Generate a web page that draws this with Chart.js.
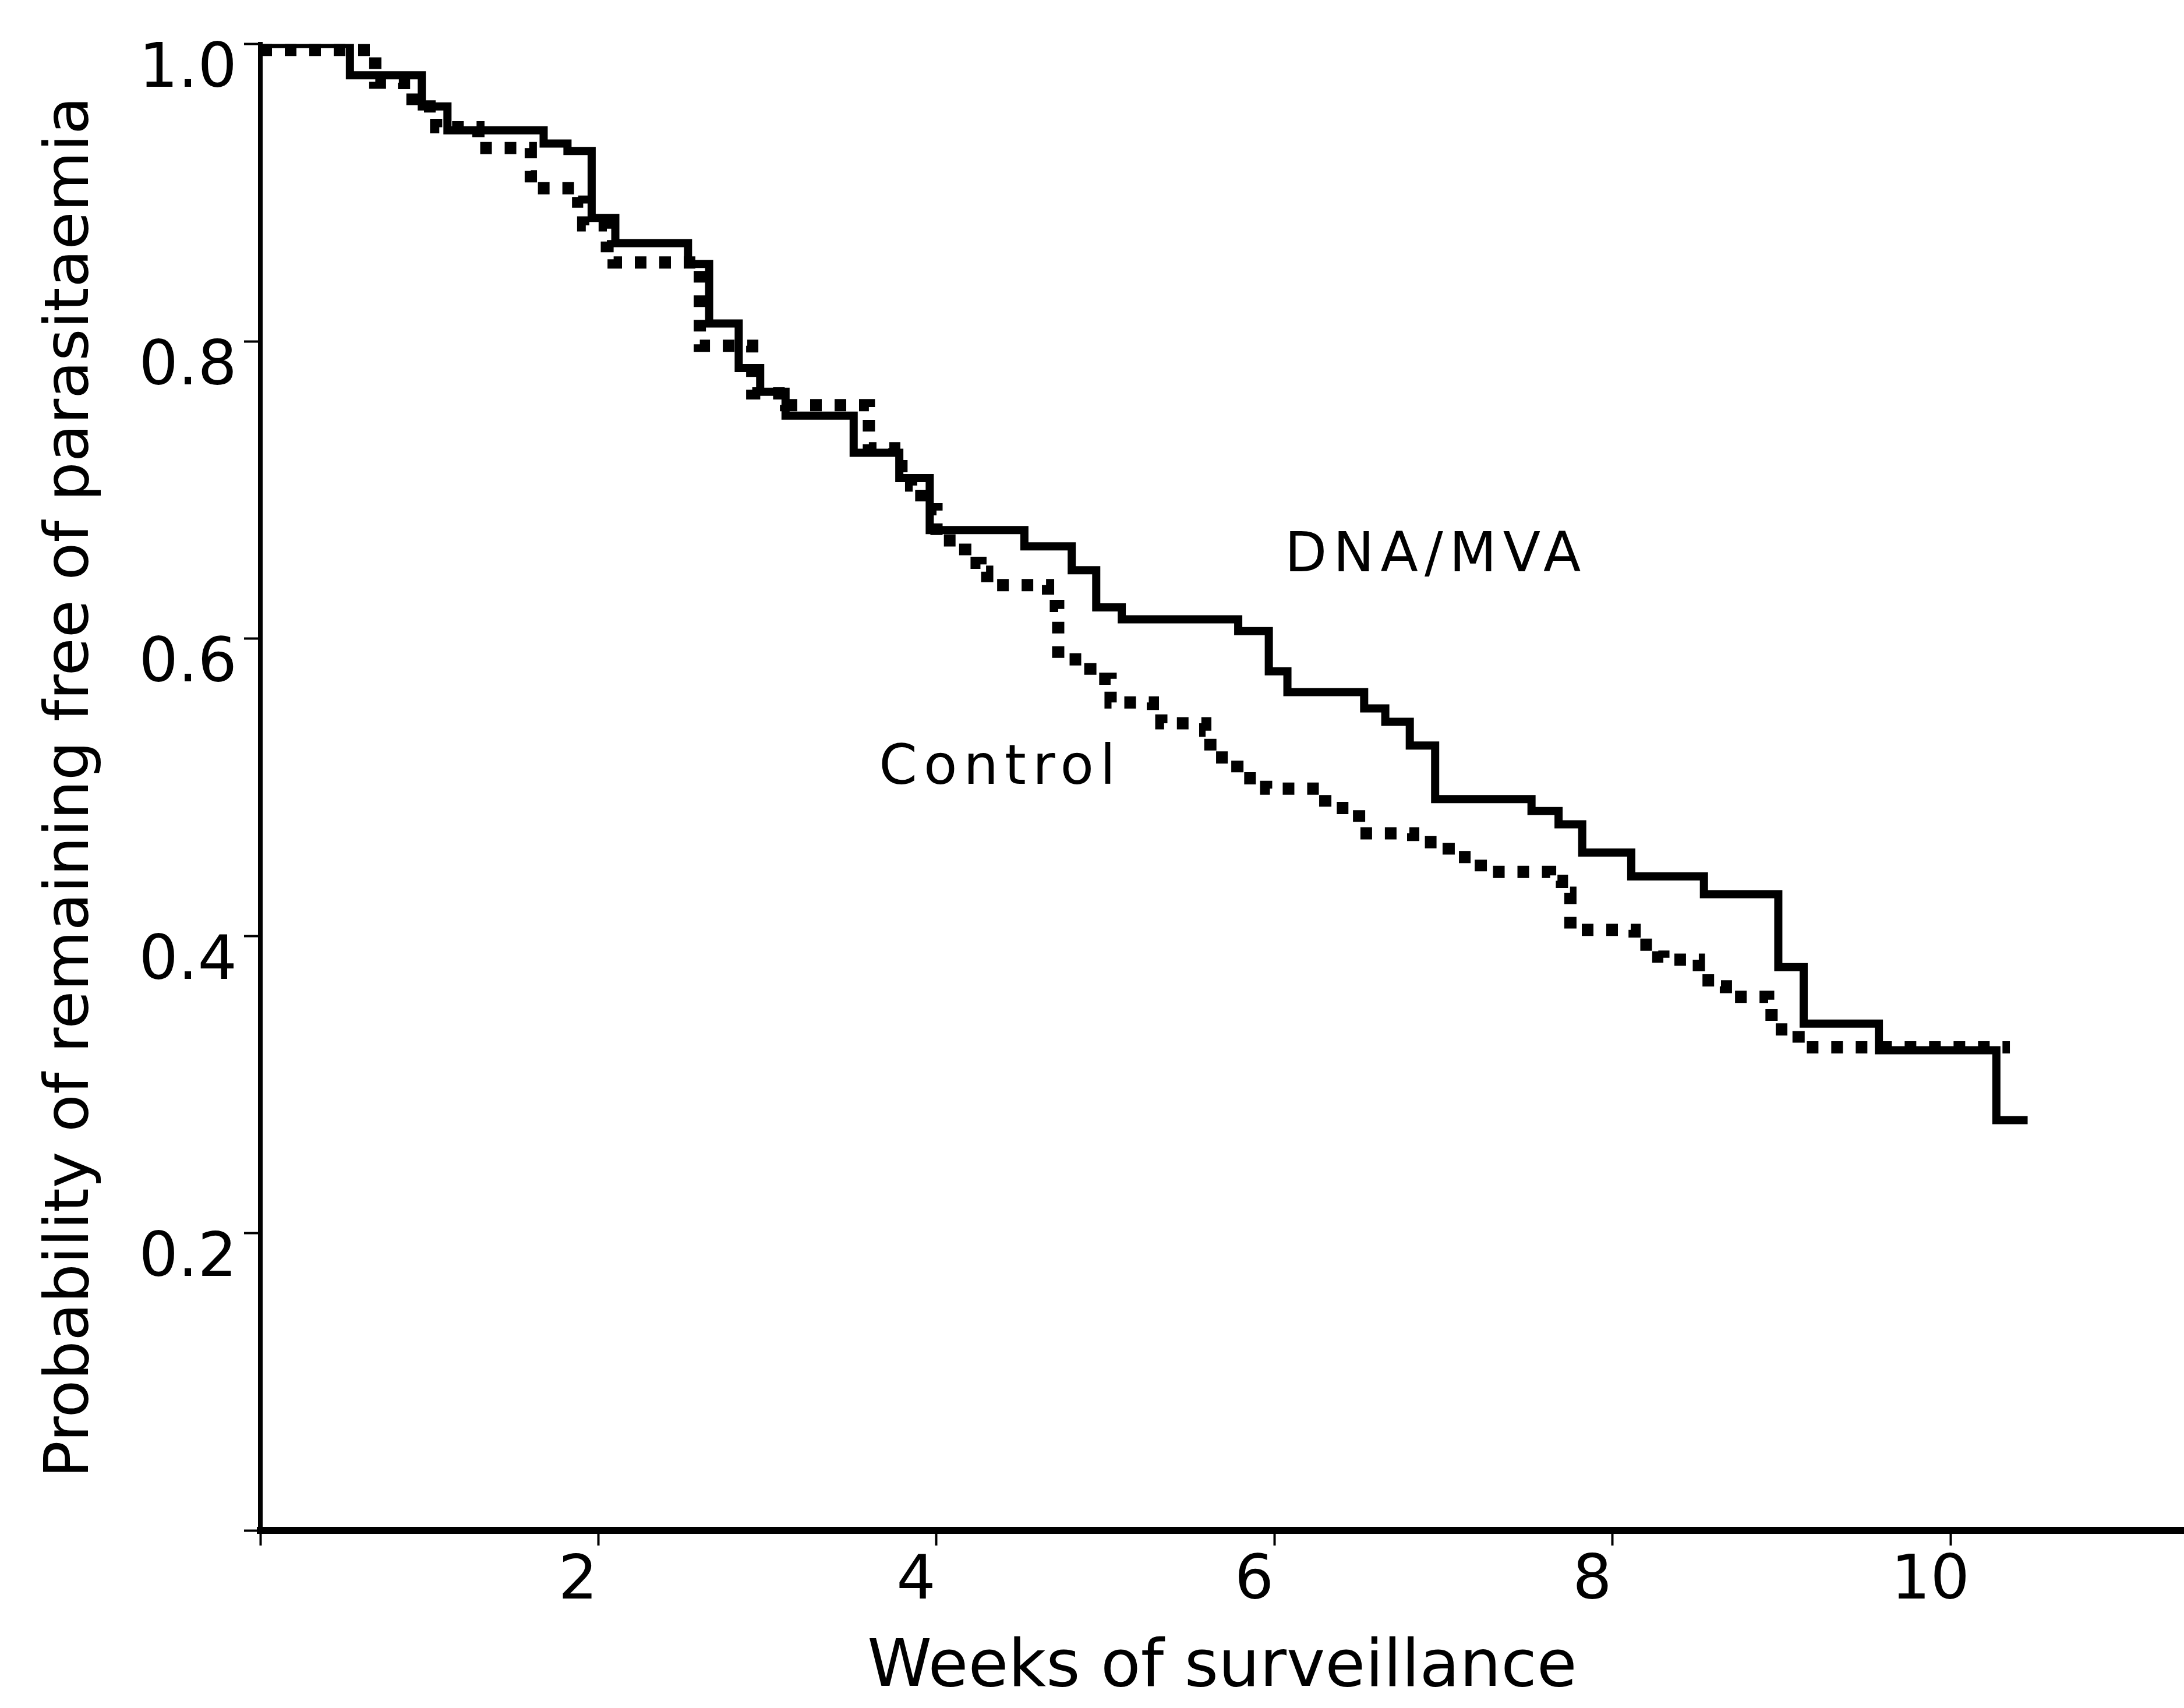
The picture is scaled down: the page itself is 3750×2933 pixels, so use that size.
<!DOCTYPE html>
<html>
<head>
<meta charset="utf-8">
<title>Probability of remaining free of parasitaemia</title>
<script src="https://cdn.jsdelivr.net/npm/chart.js@4.4.1/dist/chart.umd.min.js"></script>
<style>
  html, body { margin: 0; padding: 0; background: #fff; }
  #wrap { width: 3750px; height: 2933px; }
</style>
</head>
<body>
<div id="wrap"><canvas id="kmChart" width="3750" height="2933"></canvas></div>
<script>
// Kaplan-Meier curves: week where the step happens, value after it
const dnaWeeks = [0, 0.53, 0.955, 1.107, 1.676, 1.817, 1.96, 2.10, 2.53, 2.655,
    2.83, 2.957, 3.107, 3.51, 3.78, 3.96, 4.52, 4.80, 4.945, 5.096,
    5.785, 5.966, 6.076, 6.53, 6.655, 6.80, 6.95, 7.52, 7.68, 7.82,
    8.11, 8.54, 8.98, 9.13, 9.575, 10.27, 10.455];
const dnaSurv = [1.0, 0.979, 0.958, 0.942, 0.933, 0.928, 0.883, 0.866, 0.852, 0.812,
    0.782, 0.766, 0.750, 0.725, 0.708, 0.673, 0.662, 0.646, 0.621, 0.613,
    0.605, 0.578, 0.564, 0.553, 0.544, 0.528, 0.492, 0.484, 0.475, 0.456,
    0.440, 0.428, 0.379, 0.341, 0.323, 0.276, 0.276];

const controlWeeks = [0, 0.68, 0.85, 0.90, 1.04, 1.29, 1.60, 1.64, 1.88, 1.91,
    2.05, 2.09, 2.60, 2.91, 3.11, 3.60, 3.75, 3.85, 3.91, 4.00,
    4.17, 4.26, 4.30, 4.66, 4.72, 4.91, 5.03, 5.28, 5.33, 5.59,
    5.62, 5.78, 5.95, 6.30, 6.50, 6.82, 7.03, 7.22, 7.63, 7.70,
    7.75, 8.13, 8.27, 8.30, 8.51, 8.64, 8.67, 8.92, 8.94, 9.10,
    10.35];
const controlSurv = [0.996, 0.974, 0.969, 0.958, 0.944, 0.930, 0.911, 0.903, 0.894, 0.878,
    0.864, 0.853, 0.797, 0.765, 0.757, 0.728, 0.716, 0.703, 0.687, 0.666,
    0.651, 0.645, 0.636, 0.622, 0.586, 0.573, 0.557, 0.551, 0.543, 0.538,
    0.520, 0.506, 0.499, 0.486, 0.469, 0.463, 0.453, 0.443, 0.437, 0.429,
    0.404, 0.394, 0.386, 0.384, 0.370, 0.366, 0.359, 0.352, 0.337, 0.325,
    0.325];

// Axis ticks
const xTickValues = [0, 2, 4, 6, 8, 10];
const yTickValues = [0, 0.2, 0.4, 0.6, 0.8, 1.0];

// Curve labels (text and where they sit, in data units)
const curveLabels = [
    { text: 'DNA/MVA', week: 6.06, prob: 0.655 },
    { text: 'Control', week: 3.66, prob: 0.512 }
];

const FONT = '"DejaVu Sans", "Liberation Sans", sans-serif';

function toPoints(xs, ys) {
    return xs.map((x, i) => ({ x: x, y: ys[i] }));
}

// Plugin to write the curve names inside the plot
const curveLabelPlugin = {
    id: 'curveLabels',
    afterDatasetsDraw(chart) {
        const ctx = chart.ctx;
        const xs = chart.scales.x;
        const ys = chart.scales.y;
        ctx.save();
        ctx.fillStyle = '#000';
        ctx.font = '94px ' + FONT;
        ctx.textAlign = 'left';
        ctx.textBaseline = 'middle';
        if ('letterSpacing' in ctx) ctx.letterSpacing = '11px';
        curveLabels.forEach(l => {
            ctx.fillText(l.text, xs.getPixelForValue(l.week), ys.getPixelForValue(l.prob));
        });
        ctx.restore();
    }
};

const ctx = document.getElementById('kmChart').getContext('2d');
new Chart(ctx, {
    type: 'line',
    data: {
        datasets: [
            {
                label: 'DNA/MVA',
                data: toPoints(dnaWeeks, dnaSurv),
                stepped: 'before',
                borderColor: '#000',
                borderWidth: 14,
                borderJoinStyle: 'miter',
                pointRadius: 0,
                fill: false
            },
            {
                label: 'Control',
                data: toPoints(controlWeeks, controlSurv),
                stepped: 'before',
                borderColor: '#000',
                borderWidth: 21,
                borderDash: [20, 22],
                borderCapStyle: 'butt',
                pointRadius: 0,
                fill: false
            }
        ]
    },
    options: {
        responsive: false,
        animation: false,
        devicePixelRatio: 1,
        layout: { padding: { top: 66, right: 0, bottom: 0, left: 0 } },
        plugins: {
            legend: { display: false },
            tooltip: { enabled: false }
        },
        scales: {
            x: {
                type: 'linear',
                min: 0,
                max: 11.38,
                afterBuildTicks: scale => { scale.ticks = xTickValues.map(v => ({ value: v })); },
                afterFit: scale => { scale.height = 305; },
                border: { display: true, color: '#000', width: 12 },
                grid: { drawOnChartArea: false, drawTicks: true, tickLength: 26, tickWidth: 4, tickColor: '#000' },
                ticks: {
                    color: '#000',
                    font: { family: FONT, size: 106 },
                    padding: 0,
                    labelOffset: -35,
                    maxRotation: 0,
                    callback: v => (v === 0 ? '' : String(v))
                },
                title: {
                    display: true,
                    text: 'Weeks of surveillance',
                    color: '#000',
                    font: { family: FONT, size: 112 },
                    padding: { top: 0, bottom: 0 }
                }
            },
            y: {
                type: 'linear',
                min: 0,
                max: 1.0,
                afterBuildTicks: scale => { scale.ticks = yTickValues.map(v => ({ value: v })); },
                afterFit: scale => { scale.width = 447; },
                border: { display: true, color: '#000', width: 8 },
                grid: { drawOnChartArea: false, drawTicks: true, tickLength: 28, tickWidth: 4, tickColor: '#000' },
                ticks: {
                    color: '#000',
                    font: { family: FONT, size: 106 },
                    padding: 12,
                    labelOffset: 46,
                    callback: v => (v === 0 ? '' : v.toFixed(1))
                },
                title: {
                    display: true,
                    text: 'Probability of remaining free of parasitaemia',
                    color: '#000',
                    font: { family: FONT, size: 106 },
                    padding: { top: 60, bottom: 0 }
                }
            }
        }
    },
    plugins: [curveLabelPlugin]
});
</script>
</body>
</html>
